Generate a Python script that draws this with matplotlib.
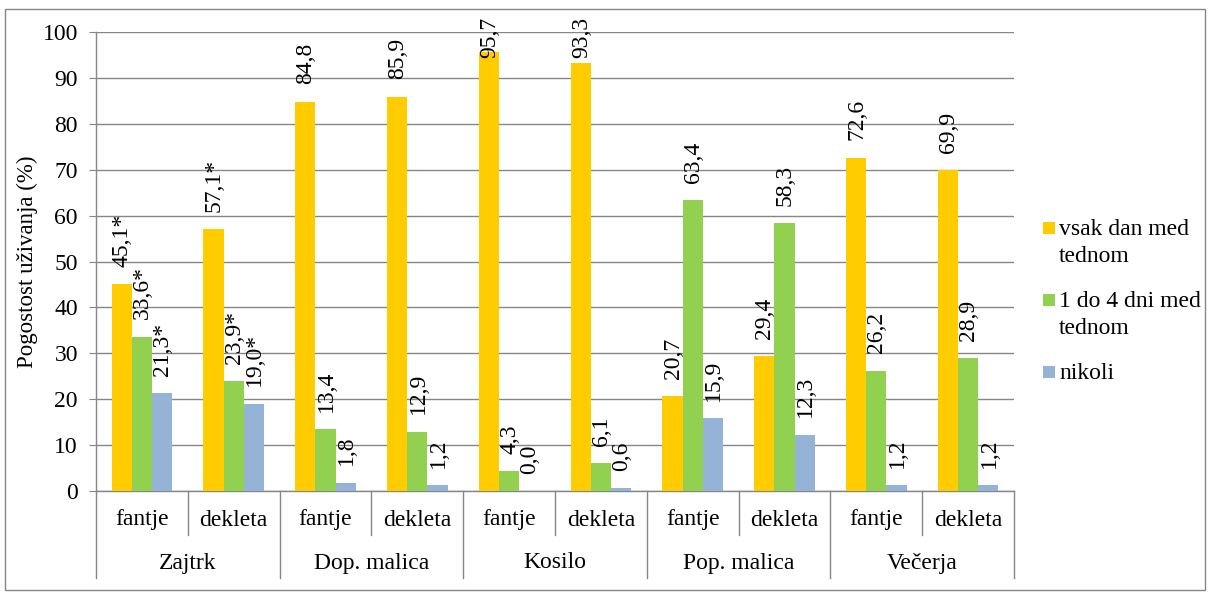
import matplotlib
matplotlib.use("Agg")
import matplotlib.pyplot as plt
import matplotlib.transforms as mtransforms
from matplotlib.patches import Rectangle
import numpy as np

plt.rcParams['font.family'] = ['Liberation Serif', 'DejaVu Serif']

# data
meals = ['Zajtrk', 'Dop. malica', 'Kosilo', 'Pop. malica', 'Večerja']
genders = ['fantje', 'dekleta']
series_names = ['vsak dan med\ntednom', '1 do 4 dni med\ntednom', 'nikoli']
vsak_dan = [45.1, 57.1, 84.8, 85.9, 95.7, 93.3, 20.7, 29.4, 72.6, 69.9]
do_4_dni = [33.6, 23.9, 13.4, 12.9, 4.3, 6.1, 63.4, 58.3, 26.2, 28.9]
nikoli = [21.3, 19.0, 1.8, 1.2, 0.0, 0.6, 15.9, 12.3, 1.2, 1.2]
significant = [True, True, False, False, False, False, False, False, False, False]

colors = ['#FFCC00', '#92D050', '#95B3D7']
grid_col = '#868686'
W, H = 1210, 596

fig = plt.figure(figsize=(W / 100, H / 100), dpi=100)
ax = fig.add_axes([96 / W, 1 - 491 / H, (1014 - 96) / W, (491 - 32) / H])

# outer chart frame
fig.patches.append(Rectangle((5 / W, 1 - 590 / H), 1200 / W, 581 / H,
                             transform=fig.transFigure, fill=False,
                             edgecolor=grid_col, linewidth=1.0))

n = len(vsak_dan)
x = np.arange(n)
w = 0.22
series = [vsak_dan, do_4_dni, nikoli]
for k, (vals, col) in enumerate(zip(series, colors)):
    xs = x + (k - 1) * w
    ax.bar(xs, vals, width=w, color=col, zorder=3)
    for xi, v, star in zip(xs, vals, significant):
        txt = f"{v:.1f}".replace('.', ',') + ('*' if star else '')
        # labels are kept inside the chart area, like Excel does
        ax.annotate(txt, (xi, min(v, 90.5)), xytext=(0.5, 12.5), textcoords='offset points',
                    rotation=90, ha='center', va='bottom', fontsize=17,
                    color='black', zorder=4, annotation_clip=False)

ax.set_xlim(-0.5, n - 0.5)
ax.set_ylim(0, 100)
ax.set_yticks(np.arange(0, 101, 10))
ax.tick_params(axis='y', labelsize=17, length=5, color=grid_col, pad=8)
ax.grid(axis='y', color=grid_col, linewidth=1.0, zorder=0)
ax.set_xticks([])
for s in ['top', 'right']:
    ax.spines[s].set_visible(False)
for s in ['left', 'bottom']:
    ax.spines[s].set_color(grid_col)
    ax.spines[s].set_linewidth(1.0)
ax.set_ylabel('Pogostost uživanja (%)', fontsize=16.5)
ax.yaxis.set_label_coords((38 - 96) / 918, 0.5)

# multi-level category axis
trans = mtransforms.blended_transform_factory(ax.transData, ax.transAxes)
ax_h = 491 - 32
sub_bottom = -(535 - 491) / ax_h
grp_bottom = -(578 - 491) / ax_h
for i in range(n + 1):
    xb = i - 0.5
    yb = grp_bottom if i % 2 == 0 else sub_bottom
    ax.plot([xb, xb], [0, yb], transform=trans, color=grid_col, lw=1.0, clip_on=False)
for i in range(n):
    ax.text(i, -(520 - 491) / ax_h, genders[i % 2], transform=trans,
            ha='center', va='center', fontsize=17)
for j, m in enumerate(meals):
    ax.text(2 * j + 0.5, -(563 - 491) / ax_h, m, transform=trans,
            ha='center', va='center', fontsize=17)

# legend (marker aligned with the first line of each entry)
for k, (name, col) in enumerate(zip(series_names, colors)):
    yc = 228 + 72 * k
    fig.patches.append(Rectangle((1043 / W, 1 - (yc + 6) / H), 12 / W, 12 / H,
                                 transform=fig.transFigure, facecolor=col,
                                 edgecolor='none'))
    fig.text(1059 / W, 1 - (yc - 9) / H, name, ha='left', va='top',
             fontsize=17, linespacing=1.35)

fig.savefig('out.png', dpi=100, facecolor='white')
